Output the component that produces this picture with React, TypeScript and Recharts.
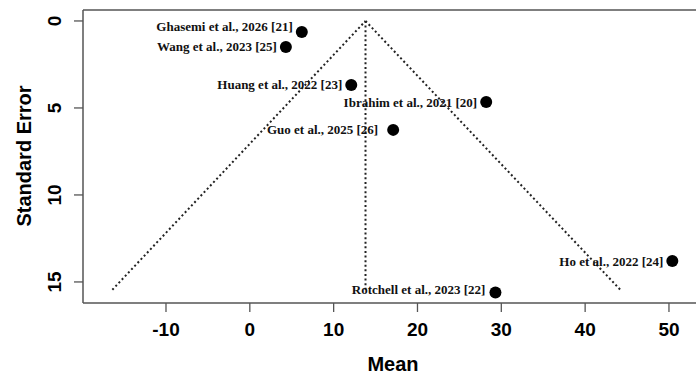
import React from 'react'
import { ScatterChart, Scatter, XAxis, YAxis, ReferenceLine, Label } from 'recharts'

// studies in the funnel plot
const studies = [
  'Ghasemi et al., 2026 [21]',
  'Wang et al., 2023 [25]',
  'Huang et al., 2022 [23]',
  'Ibrahim et al., 2021 [20]',
  'Guo et al., 2025 [26]',
  'Ho et al., 2022 [24]',
  'Rotchell et al., 2023 [22]',
]
const means = [6.2, 4.3, 12.1, 28.2, 17.1, 50.4, 29.3]
const standardErrors = [0.63, 1.49, 3.68, 4.66, 6.26, 13.8, 15.6]

// funnel: apex and the two bottom corners
const funnelApex = { mean: 13.8, se: 0 }
const funnelLeft = { mean: -16.4, se: 15.45 }
const funnelRight = { mean: 44.2, se: 15.45 }

const xTicks = [-10, 0, 10, 20, 30, 40, 50]
const yTicks = [0, 5, 10, 15]

const data = studies.map((study, i) => ({ study, mean: means[i], se: standardErrors[i] }))

// small label nudges so the text sits like in the original figure
const labelNudge: Record<string, { dx: number; dy: number }> = {
  'Ghasemi et al., 2026 [21]': { dx: 0, dy: -5 },
  'Guo et al., 2025 [26]': { dx: -6, dy: 0 },
  'Rotchell et al., 2023 [22]': { dx: -1, dy: -3 },
}

const AXIS = '#555'
const LINE = '#222'
const sans = '"Liberation Sans", Arial, sans-serif'
const serif = '"Liberation Serif", "Times New Roman", serif'

const dotted = { stroke: LINE, strokeWidth: 2, strokeDasharray: '2 2.6' }

const StudyDot = (props: any) => {
  const { cx, cy, payload } = props
  const n = labelNudge[payload.study] ?? { dx: 0, dy: 0 }
  return (
    <g>
      <circle cx={cx} cy={cy} r={6} fill="#000" />
      <text
        x={cx - 9 + n.dx}
        y={cy + 4.5 + n.dy}
        textAnchor="end"
        fontFamily={serif}
        fontWeight="bold"
        fontSize={13}
        fill="#111"
      >
        {payload.study}
      </text>
    </g>
  )
}

const XTick = (props: any) => (
  <text x={props.x} y={336} textAnchor="middle" fontFamily={sans} fontWeight="bold" fontSize={19} fill="#000">
    {props.payload.value}
  </text>
)

const YTick = (props: any) => (
  <text
    x={61}
    y={props.y}
    transform={`rotate(-90, 61, ${props.y})`}
    textAnchor="middle"
    fontFamily={sans}
    fontWeight="bold"
    fontSize={19}
    fill="#000"
  >
    {props.payload.value}
  </text>
)

export default function App() {
  return (
    <div
      style={{
        position: 'absolute',
        left: 0,
        top: 0,
        width: 696,
        height: 377,
        overflow: 'hidden',
        background: '#fff',
      }}
    >
      <ScatterChart width={710} height={377} margin={{ top: 10, right: 7, bottom: 0, left: 0 }}>
        <XAxis
          type="number"
          dataKey="mean"
          domain={[-19.9, 54.06]}
          ticks={xTicks}
          allowDataOverflow
          height={74}
          tickSize={9}
          tickLine={{ stroke: AXIS, strokeWidth: 1.3 }}
          axisLine={{ stroke: AXIS, strokeWidth: 1.5 }}
          tick={<XTick />}
        >
          <Label
            content={() => (
              <text x={393} y={371} textAnchor="middle" fontFamily={sans} fontWeight="bold" fontSize={20} fill="#000">
                Mean
              </text>
            )}
          />
        </XAxis>
        <YAxis
          type="number"
          dataKey="se"
          reversed
          domain={[-0.63, 16.21]}
          ticks={yTicks}
          allowDataOverflow
          width={83}
          tickSize={9}
          tickLine={{ stroke: AXIS, strokeWidth: 1.3 }}
          axisLine={{ stroke: AXIS, strokeWidth: 1.5 }}
          tick={<YTick />}
        >
          <Label
            content={() => (
              <text
                x={31}
                y={156}
                transform="rotate(-90, 31, 156)"
                textAnchor="middle"
                fontFamily={sans}
                fontWeight="bold"
                fontSize={20}
                fill="#000"
              >
                Standard Error
              </text>
            )}
          />
        </YAxis>
        {/* top edge of the plot box */}
        <ReferenceLine y={-0.63} stroke={AXIS} strokeWidth={1.5} ifOverflow="visible" />
        {/* funnel */}
        <ReferenceLine
          segment={[{ x: funnelLeft.mean, y: funnelLeft.se }, { x: funnelApex.mean, y: funnelApex.se }]}
          {...dotted}
          ifOverflow="visible"
        />
        <ReferenceLine
          segment={[{ x: funnelApex.mean, y: funnelApex.se }, { x: funnelRight.mean, y: funnelRight.se }]}
          {...dotted}
          ifOverflow="visible"
        />
        <ReferenceLine
          segment={[{ x: funnelApex.mean, y: funnelApex.se }, { x: funnelApex.mean, y: funnelLeft.se }]}
          {...dotted}
          ifOverflow="visible"
        />
        <Scatter data={data} shape={<StudyDot />} isAnimationActive={false} />
      </ScatterChart>
    </div>
  )
}
